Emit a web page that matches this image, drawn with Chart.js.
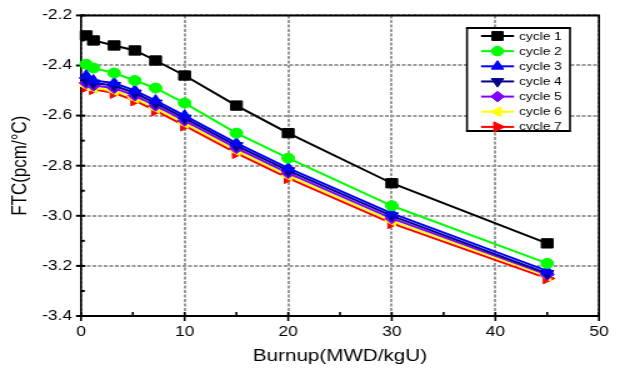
<!DOCTYPE html>
<html><head><meta charset="utf-8">
<script src="https://cdn.jsdelivr.net/npm/chart.js@4/dist/chart.umd.min.js"></script>
<style>
html,body{margin:0;padding:0;background:#fff;}
#c{display:block;}
</style></head>
<body>
<canvas id="c" width="496" height="370" style="width:620px;height:370px"></canvas>
<script>
// ---- data ----
const burnup = [0.5, 1.2, 3.2, 5.2, 7.2, 10, 15, 20, 30, 45];
const seriesNames = ['cycle 1', 'cycle 2', 'cycle 3', 'cycle 4', 'cycle 5', 'cycle 6', 'cycle 7'];
const cycle1 = [-2.28, -2.30, -2.32, -2.34, -2.38, -2.44, -2.56, -2.67, -2.87, -3.11];
const cycle2 = [-2.395, -2.41, -2.43, -2.46, -2.49, -2.55, -2.67, -2.77, -2.96, -3.19];
const cycle3 = [-2.44, -2.46, -2.47, -2.50, -2.54, -2.60, -2.71, -2.81, -2.99, -3.22];
const cycle4 = [-2.46, -2.47, -2.48, -2.51, -2.55, -2.61, -2.72, -2.82, -3.00, -3.23];
const cycle5 = [-2.47, -2.48, -2.49, -2.52, -2.56, -2.62, -2.73, -2.83, -3.01, -3.235];
const cycle6 = [-2.48, -2.49, -2.50, -2.53, -2.57, -2.63, -2.74, -2.84, -3.02, -3.24];
const cycle7 = [-2.485, -2.495, -2.51, -2.54, -2.58, -2.64, -2.75, -2.85, -3.03, -3.25];
const xTickLabels = ['0', '10', '20', '30', '40', '50'];
const yTickLabels = ['-3.4', '-3.2', '-3.0', '-2.8', '-2.6', '-2.4', '-2.2'];
const xMinorTicks = [5, 15, 25, 35, 45];
const yMinorTicks = [-3.3, -3.1, -2.9, -2.7, -2.5, -2.3];
const xTitle = 'Burnup(MWD/kgU)';
const yTitle = 'FTC(pcm/\u00B0C)';

// ---- styles ----
const allSeries = [cycle1, cycle2, cycle3, cycle4, cycle5, cycle6, cycle7];
const colors = ['#000000', '#00ff00', '#0000ff', '#00008b', '#8000ff', '#ffff00', '#ff0000'];
const styles = [
  {pointStyle: 'rect', radius: 6.6, rotation: 0},
  {pointStyle: 'circle', radius: 5, rotation: 0},
  {pointStyle: 'triangle', radius: 6, rotation: 0},
  {pointStyle: 'triangle', radius: 6, rotation: 180},
  {pointStyle: 'rectRot', radius: 5.6, rotation: 0},
  {pointStyle: 'triangle', radius: 6, rotation: 270},
  {pointStyle: 'triangle', radius: 6.2, rotation: 90}
];
const xTickValues = xTickLabels.map(Number);
const yTickValues = yTickLabels.map(Number);
const FONT = '"Liberation Sans", Arial, sans-serif';

const datasets = allSeries.map((vals, i) => ({
  label: seriesNames[i],
  data: burnup.map((b, j) => ({x: b, y: vals[j]})),
  borderColor: colors[i],
  backgroundColor: colors[i],
  borderWidth: 2,
  pointStyle: styles[i].pointStyle,
  pointRadius: styles[i].radius,
  pointRotation: styles[i].rotation,
  pointBorderWidth: 1,
  pointHoverRadius: styles[i].radius,
  showLine: true,
  tension: 0,
  clip: false
}));

function seg(ctx, x1, y1, x2, y2) { ctx.beginPath(); ctx.moveTo(x1, y1); ctx.lineTo(x2, y2); ctx.stroke(); }

const framePlugin = {
  id: 'frame',
  beforeDatasetsDraw(chart) {
    const {ctx, chartArea: a, scales: {x, y}} = chart;
    ctx.save();
    ctx.strokeStyle = '#000';
    ctx.setLineDash([]);
    ctx.lineWidth = 1.6;
    xTickValues.forEach(v => { const px = x.getPixelForValue(v); seg(ctx, px, a.bottom - 4, px, a.bottom + 5); });
    xMinorTicks.forEach(v => { const px = x.getPixelForValue(v); seg(ctx, px, a.bottom - 4, px, a.bottom); });
    ctx.lineWidth = 2;
    yTickValues.forEach(v => { const py = y.getPixelForValue(v); seg(ctx, a.left - 4, py, a.left + 3.5, py); });
    yMinorTicks.forEach(v => { const py = y.getPixelForValue(v); seg(ctx, a.left, py, a.left + 3, py); });
    // frame
    ctx.lineWidth = 2;
    seg(ctx, a.left - 0.8, a.top, a.right + 0.8, a.top);
    seg(ctx, a.left - 0.8, a.bottom, a.right + 0.8, a.bottom);
    ctx.lineWidth = 1.6;
    seg(ctx, a.left, a.top, a.left, a.bottom);
    seg(ctx, a.right, a.top, a.right, a.bottom);
    ctx.restore();
  },
  afterDraw(chart) {
    const {ctx} = chart;
    const lx = 373.6, ly = 28, lw = 82.4, lh = 103;
    ctx.save();
    ctx.fillStyle = '#fff';
    ctx.fillRect(lx, ly, lw, lh);
    ctx.strokeStyle = '#000';
    ctx.lineWidth = 2;
    seg(ctx, lx - 0.8, ly, lx + lw + 0.8, ly);
    seg(ctx, lx - 0.8, ly + lh, lx + lw + 0.8, ly + lh);
    ctx.lineWidth = 1.6;
    seg(ctx, lx, ly, lx, ly + lh);
    seg(ctx, lx + lw, ly, lx + lw, ly + lh);
    chart.data.datasets.forEach((ds, i) => {
      const cy = 36 + i * 15.15;
      ctx.strokeStyle = ds.borderColor;
      ctx.lineWidth = 2;
      seg(ctx, 384.8, cy, 411.2, cy);
      ctx.fillStyle = ds.backgroundColor;
      ctx.lineWidth = 1;
      Chart.helpers.drawPoint(ctx, {pointStyle: ds.pointStyle, radius: ds.pointRadius * 0.95, rotation: ds.pointRotation, borderWidth: 1}, 398, cy);
      ctx.fillStyle = '#000';
      ctx.font = '11px ' + FONT;
      ctx.textBaseline = 'middle';
      ctx.textAlign = 'left';
      ctx.fillText(ds.label, 415.2, cy + 0.5);
    });
    ctx.restore();
  }
};

new Chart(document.getElementById('c'), {
  type: 'scatter',
  data: {datasets},
  options: {
    responsive: false,
    animation: false,
    devicePixelRatio: 1,
    layout: {padding: {left: 0, top: 15, right: 16.8, bottom: 0}},
    plugins: {legend: {display: false}, tooltip: {enabled: false}},
    scales: {
      x: {
        type: 'linear', min: 0, max: 50,
        afterBuildTicks: s => { s.ticks = xTickValues.map(v => ({value: v})); },
        afterFit: s => { s.height = 54; },
        ticks: {callback: (v, i) => xTickLabels[i], color: '#000', font: {family: FONT, size: 14}, padding: 8, maxRotation: 0},
        grid: {color: '#9a9a9a', lineWidth: 2, drawTicks: false},
        border: {display: false, dash: [3, 1.5]},
        title: {display: true, text: xTitle, color: '#000', font: {family: FONT, size: 16.5}, padding: {top: 0, bottom: 4}}
      },
      y: {
        type: 'linear', min: -3.4, max: -2.2,
        afterBuildTicks: s => { s.ticks = yTickValues.map(v => ({value: v})); },
        afterFit: s => { s.width = 64.8; },
        ticks: {callback: (v, i) => yTickLabels[i], color: '#000', font: {family: FONT, size: 14}, padding: 7},
        grid: {color: '#9a9a9a', lineWidth: 2, drawTicks: false},
        border: {display: false, dash: [3, 1.5]},
        title: {display: true, text: yTitle, color: '#000', font: {family: FONT, size: 17}, padding: {top: 6, bottom: 0}}
      }
    }
  },
  plugins: [framePlugin]
});
</script>
</body></html>
